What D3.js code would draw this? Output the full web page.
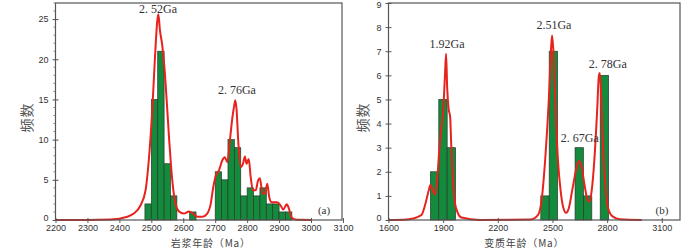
<!DOCTYPE html>
<html><head><meta charset="utf-8">
<script src="https://cdn.jsdelivr.net/npm/d3@7"></script>
<style>
html,body{margin:0;padding:0;background:#fff;}
svg{display:block;}
</style>
</head><body>
<svg id="chart" width="700" height="248"></svg>
<script>
// ---------- Panel (a): magmatic ages ----------
const aBinWidth = 20;
const aBinStart = [2480,2500,2520,2540,2560,2620,2700,2720,2740,2760,2780,2800,2820,2840,2860,2880,2900,2920];
const aCounts   = [2,15,21,7,3,1,6,5,10,9,3,4,3,4,2,2,1,1];
const aCurveAge = [2200,2300,2372,2425,2445,2466,2482,2492,2503,2511,2519,2522,2527,2534,2541,2550,2556,2562,2569,2576,2586,2602,2618,2631,2644,2660,2675,2686,2694,2701,2712,2722,2730,2738,2746,2754,2759,2763,2767,2772,2780,2787,2793,2798,2805,2811,2818,2827,2834,2840,2848,2856,2863,2869,2877,2884,2894,2905,2913,2924,2931,2938,2947,2968,3000];
const aCurveVal = [0,0,0.05,0.4,0.8,1.8,3.7,7.4,13.7,19.9,24.9,25.6,23.6,21.8,19,13.7,9.9,6.6,3.7,2,1.1,0.8,1.05,0.8,0.4,0.4,0.8,2,4.1,5.4,6.2,7.4,7.8,7.2,9.9,12.8,14.1,14.9,13.7,9.9,6.6,7,7.9,7,7.6,5.4,3.7,3.7,4.9,5.2,3.3,3.3,4.5,2.9,2.2,2.2,2.2,1.8,1.3,1.95,1.4,0.4,0.1,0.02,0];
const aXTicks = [2200,2300,2400,2500,2600,2700,2800,2900,3000,3100];
const aYTicks = [0,5,10,15,20,25];
const aPeakText = ["2. 52Ga","2. 76Ga"];
const aPeakAge  = [2521,2768];
const aPeakVal  = [25.8,15.7];
const aXLabel = "岩浆年龄（Ma）";
const aYLabel = "频数";
const aTag = "(a)";

// ---------- Panel (b): metamorphic ages ----------
const bBinWidth = 46;
const bBinStart = [1830,1876,1922,2436,2482,2624,2670,2762];
const bCounts   = [2,5,3,1,7,3,1,6];
const bCurveAge = [1600,1700,1780,1800,1820,1830,1845,1855,1865,1880,1890,1900,1910,1916,1922,1930,1938,1945,1955,1965,1980,2000,2100,2380,2420,2440,2460,2480,2493,2498,2505,2515,2530,2545,2560,2575,2590,2610,2630,2645,2660,2675,2690,2700,2715,2730,2745,2755,2760,2768,2775,2790,2805,2830,2870,2990];
const bCurveVal = [0,0.02,0.2,0.6,1.2,1.45,1.2,1.05,1.5,3.0,3.8,4.5,6.0,6.9,5.5,4.6,4.3,3.0,1.5,0.7,0.3,0.1,0,0.02,0.2,0.8,2.5,5,7.2,7.65,7,5,2.5,1.2,0.5,0.3,0.5,1.3,2.1,2.45,2.2,1.5,0.9,0.75,1.2,2.5,4.5,6.0,6.1,5,3.5,1.5,0.5,0.15,0.03,0];
const bXTicks = [1600,1900,2200,2500,2800,3100];
const bYTicks = [0,1,2,3,4,5,6,7,8,9];
const bPeakText = ["1.92Ga","2.51Ga","2. 67Ga","2. 78Ga"];
const bPeakAge  = [1921,2508,2650,2804];
const bPeakVal  = [7.14,7.93,3.24,6.3];
const bXLabel = "变质年龄（Ma）";
const bYLabel = "频数";
const bTag = "(b)";

const svg = d3.select("#chart");

function drawPanel(cfg){
  const g = svg.append("g");
  const x = d3.scaleLinear().domain(cfg.xDomain).range([cfg.left, cfg.right]);
  const y = d3.scaleLinear().domain(cfg.yDomain).range([cfg.bottom, cfg.top]);

  // bars
  g.selectAll("rect.bar").data(cfg.binStart).join("rect")
    .attr("class","bar")
    .attr("x", (d)=>x(d))
    .attr("width", (d)=>x(d+cfg.binWidth)-x(d))
    .attr("y", (d,i)=>y(cfg.counts[i]))
    .attr("height", (d,i)=>y(0)-y(cfg.counts[i]))
    .attr("fill","#138a3c")
    .attr("stroke","#2b3a2b")
    .attr("stroke-width",0.7);

  // curve
  const pts = cfg.curveAge.map((a,i)=>[a,cfg.curveVal[i]]);
  g.append("path")
    .datum(pts)
    .attr("d", d3.line().x(d=>x(d[0])).y(d=>y(d[1])).curve(d3.curveMonotoneX))
    .attr("fill","none")
    .attr("stroke","#e8221c")
    .attr("stroke-width",2)
    .attr("stroke-linejoin","round");

  // frame
  g.append("rect")
    .attr("x",cfg.left).attr("y",cfg.top)
    .attr("width",cfg.right-cfg.left).attr("height",cfg.bottom-cfg.top)
    .attr("fill","none").attr("stroke","#555").attr("stroke-width",1.2);

  // x axis
  const xAxis = d3.axisBottom(x).tickValues(cfg.xTicks).tickSize(3).tickPadding(2).tickFormat(d3.format("d"));
  const xa = g.append("g").attr("transform",`translate(0,${cfg.bottom})`).call(xAxis);
  xa.select(".domain").remove();
  xa.selectAll(".tick line").attr("stroke","#555").attr("y1",-2);
  xa.selectAll(".tick text").attr("fill","#333").style("font-family","'Liberation Sans',Arial,sans-serif").style("font-size","9px");

  // y axis
  const yAxis = d3.axisLeft(y).tickValues(cfg.yTicks).tickSize(3).tickPadding(4);
  const ya = g.append("g").attr("transform",`translate(${cfg.left},0)`).call(yAxis);
  ya.select(".domain").remove();
  ya.selectAll(".tick line").attr("stroke","#555").attr("x1",3);
  ya.selectAll(".tick text").attr("fill","#333").style("font-family","'Liberation Sans',Arial,sans-serif").style("font-size","9px");
  // keep the topmost label inside the picture, and the zero label clear of the x labels
  ya.selectAll(".tick text").filter(d=>y(d)<6).attr("dy","0.55em");
  ya.selectAll(".tick text").filter(d=>d===cfg.yDomain[0]).attr("dy","0.1em");

  if (cfg.yMinor){
    const minors = d3.range(cfg.yDomain[0], Math.floor(cfg.yDomain[1])+1, cfg.yMinor).filter(v=>!cfg.yTicks.includes(v));
    g.selectAll("line.ymin").data(minors).join("line")
      .attr("x1",cfg.left-2).attr("x2",cfg.left)
      .attr("y1",d=>y(d)).attr("y2",d=>y(d))
      .attr("stroke","#666").attr("stroke-width",0.8);
  }

  // peak labels
  g.selectAll("text.peak").data(cfg.peakText).join("text")
    .attr("class","peak")
    .attr("x",(d,i)=>x(cfg.peakAge[i]))
    .attr("y",(d,i)=>y(cfg.peakVal[i]))
    .attr("text-anchor","middle")
    .attr("fill","#333")
    .style("font-family","'Liberation Serif','Times New Roman',serif")
    .style("font-size","12px")
    .text(d=>d);

  // tag
  g.append("text")
    .attr("x",cfg.right-18).attr("y",cfg.bottom-6)
    .attr("text-anchor","middle")
    .attr("fill","#333")
    .style("font-family","'Liberation Serif','Times New Roman',serif")
    .style("font-size","11px")
    .text(cfg.tag);

  // axis labels
  g.append("text")
    .attr("x",(cfg.left+cfg.right)/2 + cfg.xLabelShift).attr("y",246.5)
    .attr("text-anchor","middle")
    .attr("fill","#444")
    .style("font-family","'Noto Sans CJK SC',sans-serif")
    .style("font-size","10px")
    .style("letter-spacing","0.8px")
    .text(cfg.xLabel);

  g.append("text")
    .attr("transform",`translate(${cfg.yLabelX},${(cfg.top+cfg.bottom)/2+6}) rotate(-90)`)
    .attr("text-anchor","middle")
    .attr("fill","#555")
    .style("font-family","'Noto Sans CJK SC',sans-serif")
    .style("font-size","14px")
    .style("letter-spacing","1px")
    .text(cfg.yLabel);
}

drawPanel({
  left:55.5, right:342, top:3, bottom:220,
  xDomain:[2200,3097], yDomain:[0,27],
  binWidth:aBinWidth, binStart:aBinStart, counts:aCounts,
  curveAge:aCurveAge, curveVal:aCurveVal,
  xTicks:aXTicks, yTicks:aYTicks, yMinor:1,
  peakText:aPeakText, peakAge:aPeakAge, peakVal:aPeakVal,
  tag:aTag, xLabel:aXLabel, yLabel:aYLabel, yLabelX:32, xLabelShift:12
});

drawPanel({
  left:388.5, right:680, top:3, bottom:220,
  xDomain:[1600,3200], yDomain:[0,9],
  binWidth:bBinWidth, binStart:bBinStart, counts:bCounts,
  curveAge:bCurveAge, curveVal:bCurveVal,
  xTicks:bXTicks, yTicks:bYTicks, yMinor:null,
  peakText:bPeakText, peakAge:bPeakAge, peakVal:bPeakVal,
  tag:bTag, xLabel:bXLabel, yLabel:bYLabel, yLabelX:368, xLabelShift:-10
});
</script>
</body></html>
